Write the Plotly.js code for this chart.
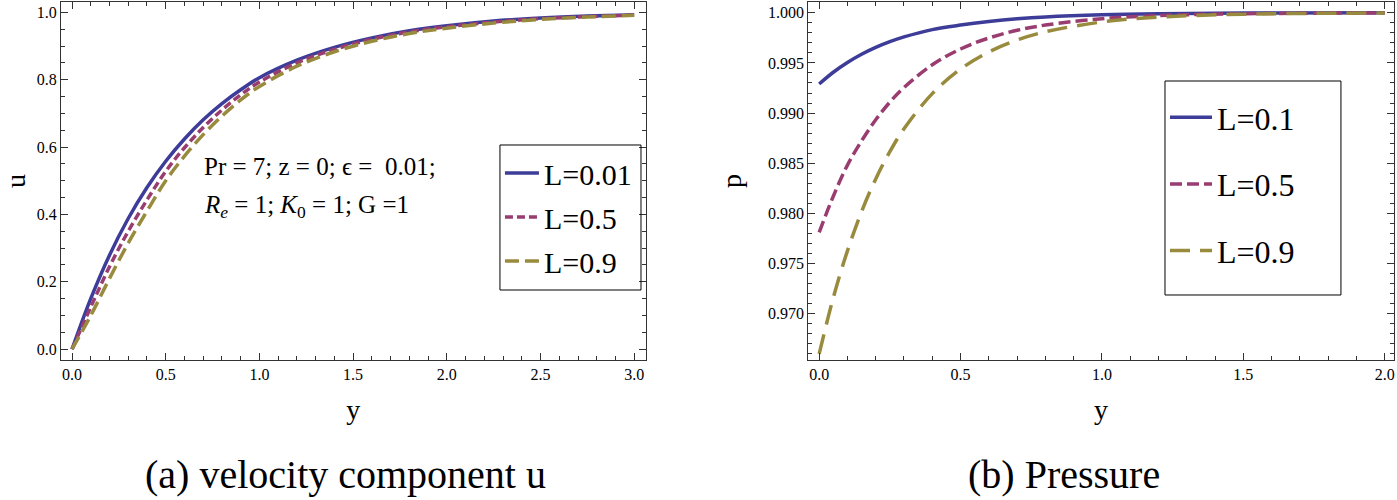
<!DOCTYPE html>
<html>
<head>
<meta charset="utf-8">
<script src="https://cdn.plot.ly/plotly-3.0.1.min.js"></script>
<style>
  html, body { margin: 0; padding: 0; background: #fff; }
  #chart { width: 1397px; height: 500px; }
</style>
</head>
<body>
<div id="chart"></div>
<script>
// (a) velocity component u
const yU = [0, 0.1, 0.2, 0.3, 0.4, 0.5, 0.6, 0.7, 0.8, 0.9, 1.0, 1.2, 1.4, 1.6, 1.8, 2.0, 2.25, 2.5, 2.75, 3.0];
const uL001 = [0, 0.150, 0.279, 0.388, 0.480, 0.558, 0.624, 0.681, 0.729, 0.770, 0.806, 0.858, 0.896, 0.924, 0.945, 0.960, 0.974, 0.983, 0.989, 0.993];
const uL05  = [0, 0.125, 0.245, 0.350, 0.443, 0.528, 0.598, 0.658, 0.710, 0.755, 0.793, 0.850, 0.890, 0.920, 0.942, 0.957, 0.971, 0.981, 0.987, 0.992];
const uL09  = [0, 0.100, 0.210, 0.315, 0.410, 0.500, 0.573, 0.637, 0.692, 0.740, 0.780, 0.840, 0.883, 0.914, 0.937, 0.953, 0.968, 0.979, 0.986, 0.991];

// (b) Pressure
const yP = [0, 0.05, 0.1, 0.15, 0.2, 0.25, 0.3, 0.4, 0.5, 0.6, 0.7, 0.8, 1.0, 1.2, 1.5, 2.0];
const pL01 = [0.99290, 0.99407, 0.99504, 0.99586, 0.99654, 0.99711, 0.99759, 0.99832, 0.99877, 0.99912, 0.99939, 0.99958, 0.99980, 0.99991, 0.99997, 0.99999];
const pL05 = [0.97810, 0.98171, 0.98481, 0.98723, 0.98933, 0.99109, 0.99255, 0.99481, 0.99639, 0.99748, 0.99825, 0.99877, 0.99941, 0.99972, 0.99990, 0.99998];
const pL09 = [0.96600, 0.97161, 0.97627, 0.98018, 0.98344, 0.98616, 0.98844, 0.99194, 0.99439, 0.99609, 0.99728, 0.99810, 0.99908, 0.99956, 0.99985, 0.99998];

const blue = '#3d3d99';
const pink = '#993d71';
const gold = '#998b3d';
const serif = 'Liberation Serif';

const traces = [
    { x: yU, y: uL001, name: 'L=0.01', xaxis: 'x', yaxis: 'y', legend: 'legend', legendgroup: 'a1',
      mode: 'lines', line: { color: blue, width: 3.5, shape: 'spline' } },
    { x: yU, y: uL05, name: 'L=0.5', xaxis: 'x', yaxis: 'y', legend: 'legend', legendgroup: 'a2',
      mode: 'lines', line: { color: pink, width: 3.5, shape: 'spline', dash: '8px,4px' } },
    { x: yU, y: uL09, name: 'L=0.9', xaxis: 'x', yaxis: 'y', legend: 'legend', legendgroup: 'a3',
      mode: 'lines', line: { color: gold, width: 3.5, shape: 'spline', dash: '14px,6px' } },
    { x: yP, y: pL01, name: 'L=0.1', xaxis: 'x2', yaxis: 'y2', legend: 'legend2', legendgroup: 'b1',
      mode: 'lines', line: { color: blue, width: 3.5, shape: 'spline' } },
    { x: yP, y: pL05, name: 'L=0.5', xaxis: 'x2', yaxis: 'y2', legend: 'legend2', legendgroup: 'b2',
      mode: 'lines', line: { color: pink, width: 3.5, shape: 'spline', dash: '12px,5px' } },
    { x: yP, y: pL09, name: 'L=0.9', xaxis: 'x2', yaxis: 'y2', legend: 'legend2', legendgroup: 'b3',
      mode: 'lines', line: { color: gold, width: 3.5, shape: 'spline', dash: '20px,10px' } }
];

const axisBase = {
    showline: true, linecolor: '#333', linewidth: 1, mirror: 'allticks',
    ticks: 'inside', ticklen: 7, tickcolor: '#333', tickwidth: 1,
    showgrid: false, zeroline: false,
    tickfont: { family: serif, size: 16, color: '#000' }
};

const layout = {
    width: 1397, height: 500,
    margin: { l: 61, r: 3, t: 2, b: 140 },
    paper_bgcolor: '#fff', plot_bgcolor: '#fff',
    font: { family: serif, color: '#000' },
    showlegend: true,
    xaxis: Object.assign({}, axisBase, {
        domain: [0, 0.4386], range: [-0.0587, 3.061], anchor: 'y',
        tickvals: [0, 0.5, 1, 1.5, 2, 2.5, 3], tickformat: '.1f',
        minor: { dtick: 0.1, tick0: 0, ticks: 'inside', ticklen: 4, tickcolor: '#333' },
        title: { text: 'y', font: { family: serif, size: 28 }, standoff: 17 }
    }),
    yaxis: Object.assign({}, axisBase, {
        domain: [0, 1], range: [-0.032, 1.0306], anchor: 'x',
        dtick: 0.2, tick0: 0, tickformat: '.1f',
        minor: { dtick: 0.05, tick0: 0, ticks: 'inside', ticklen: 4, tickcolor: '#333' },
        title: { text: 'u', font: { family: serif, size: 28 }, standoff: 22 }
    }),
    xaxis2: Object.assign({}, axisBase, {
        domain: [0.5605, 1], range: [-0.039, 2.033], anchor: 'y2',
        dtick: 0.5, tick0: 0, tickformat: '.1f',
        minor: { dtick: 0.1, tick0: 0, ticks: 'inside', ticklen: 4, tickcolor: '#333' },
        title: { text: 'y', font: { family: serif, size: 28 }, standoff: 17 }
    }),
    yaxis2: Object.assign({}, axisBase, {
        domain: [0, 1], range: [0.96539, 1.00107], anchor: 'x2',
        tickvals: [0.970, 0.975, 0.980, 0.985, 0.990, 0.995, 1.000], tickformat: '.3f',
        minor: { dtick: 0.001, tick0: 0.97, ticks: 'inside', ticklen: 4, tickcolor: '#333' },
        title: { text: 'p', font: { family: serif, size: 28 }, standoff: 18 }
    }),
    legend: {
        x: 0.3293, y: 0.595, xanchor: 'left', yanchor: 'top',
        borderwidth: 0, bgcolor: 'rgba(0,0,0,0)', itemwidth: 34,
        font: { family: serif, size: 30, color: '#000' },
        tracegroupgap: 2
    },
    legend2: {
        x: 0.8282, y: 0.7542, xanchor: 'left', yanchor: 'top',
        borderwidth: 0, bgcolor: 'rgba(0,0,0,0)', itemwidth: 42,
        font: { family: serif, size: 32, color: '#000' },
        tracegroupgap: 22
    },
    // legend frames
    shapes: [
        { type: 'rect', xref: 'paper', yref: 'paper', x0: 0.3293, x1: 0.4351, y0: 0.1955, y1: 0.6006,
          line: { color: '#000', width: 1 } },
        { type: 'rect', xref: 'paper', yref: 'paper', x0: 0.8282, x1: 0.9602, y0: 0.1816, y1: 0.7793,
          line: { color: '#000', width: 1 } }
    ],
    annotations: [
        { xref: 'x', yref: 'y', x: 0.692, y: 0.541, xanchor: 'left', yanchor: 'middle', showarrow: false,
          text: 'Pr = 7; z = 0; ϵ = &nbsp;0.01;', font: { family: serif, size: 25, color: '#000' } },
        { xref: 'x', yref: 'y', x: 0.692, y: 0.4228, xanchor: 'left', yanchor: 'middle', showarrow: false,
          text: '<i>R</i><sub><i>e</i></sub> = 1; <i>K</i><sub>0</sub> = 1; G =1', font: { family: serif, size: 25, color: '#000' } },
        { xref: 'paper', yref: 'paper', x: 0.2136, y: -0.32, xanchor: 'center', yanchor: 'middle', showarrow: false,
          text: '(a) velocity component u', font: { family: serif, size: 40, color: '#000' } },
        { xref: 'paper', yref: 'paper', x: 0.7525, y: -0.32, xanchor: 'center', yanchor: 'middle', showarrow: false,
          text: '(b) Pressure', font: { family: serif, size: 40, color: '#000' } }
    ]
};

Plotly.newPlot('chart', traces, layout, { displayModeBar: false, staticPlot: true });
</script>
</body>
</html>
